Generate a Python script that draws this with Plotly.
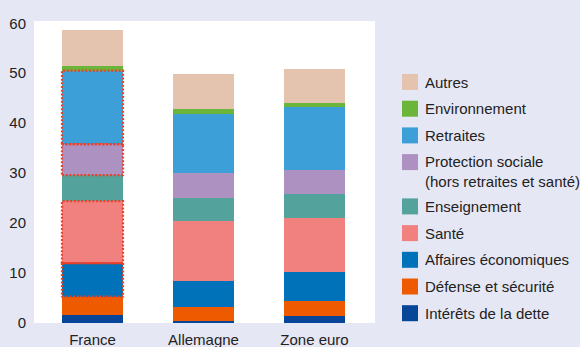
import plotly.graph_objects as go

# Dépenses publiques par fonction (en % du PIB)
countries = ["France", "Allemagne", "Zone euro"]

categories = [
    "Intérêts de la dette",
    "Défense et sécurité",
    "Affaires économiques",
    "Santé",
    "Enseignement",
    "Protection sociale",
    "Retraites",
    "Environnement",
    "Autres",
]
legend_labels = [
    "Intérêts de la dette",
    "Défense et sécurité",
    "Affaires économiques",
    "Santé",
    "Enseignement",
    "Protection sociale<br>(hors retraites et santé)",
    "Retraites",
    "Environnement",
    "Autres",
]

interets = [1.7, 0.5, 1.5]
defense = [3.6, 2.8, 3.0]
affaires = [6.7, 5.1, 5.8]
sante = [12.4, 12.0, 10.8]
enseignement = [5.2, 4.6, 4.8]
protection = [6.2, 5.0, 4.8]
retraites = [14.7, 11.9, 12.6]
environnement = [0.9, 0.9, 0.8]
autres = [7.2, 7.0, 6.8]

series = [interets, defense, affaires, sante, enseignement,
          protection, retraites, environnement, autres]

colors = ["#074598", "#EE5A00", "#0072B9", "#F0817E", "#53A39C",
          "#AD91C1", "#3D9FD8", "#6BB53A", "#E4C4AE"]

# France segments framed with a dotted red outline
highlighted = ["Affaires économiques", "Santé", "Protection sociale", "Retraites"]

y_ticks = [0, 10, 20, 30, 40, 50, 60]

W, H = 580, 347
ML, MR, MT, MB = 34, 205, 21, 24
BAR_W = 0.55
BG = "#E6E7F4"
TXT = "#222222"
FONT = "Liberation Sans, Arial, sans-serif"

fig = go.Figure()
xs = list(range(len(countries)))
for name, vals, col in zip(categories, series, colors):
    fig.add_trace(go.Bar(
        x=xs, y=vals, name=name, width=BAR_W,
        marker=dict(color=col, line=dict(width=0)),
        showlegend=False,
    ))

# dotted frames around the highlighted France segments
base = 0.0
for name, vals in zip(categories, series):
    v = vals[0]
    if name in highlighted:
        fig.add_shape(
            type="rect", xref="x", yref="y",
            x0=xs[0] - BAR_W / 2, x1=xs[0] + BAR_W / 2,
            y0=base, y1=base + v,
            line=dict(color="#E8412C", width=2.2, dash="2px,1.7px"),
            fillcolor="rgba(0,0,0,0)", layer="above",
        )
    base += v

# legend drawn on the right, in reverse stacking order
plot_w = W - ML - MR
plot_h = H - MT - MB


def px_x(px):
    return (px - ML) / plot_w


def px_y(py):
    return 1 - (py - MT) / plot_h


sq = 16
top = 74
step = 26.7
for label, col in zip(reversed(legend_labels), reversed(colors)):
    fig.add_shape(
        type="rect", xref="paper", yref="paper",
        x0=px_x(402), x1=px_x(402 + sq),
        y0=px_y(top + sq), y1=px_y(top),
        fillcolor=col, line=dict(width=0),
    )
    lines = label.count("<br>") + 1
    fig.add_annotation(
        xref="paper", yref="paper",
        x=px_x(423), y=px_y(top + sq / 2 + (lines - 1) * 9),
        xanchor="left", yanchor="middle", align="left",
        text=label, showarrow=False,
        font=dict(family=FONT, size=15, color=TXT),
    )
    top += step + (lines - 1) * 17.6

fig.update_layout(
    width=W, height=H,
    margin=dict(l=ML, r=MR, t=MT, b=MB, autoexpand=False),
    barmode="stack",
    bargap=0,
    paper_bgcolor=BG,
    plot_bgcolor="white",
    font=dict(family=FONT, size=15, color=TXT),
    showlegend=False,
)
fig.update_xaxes(
    tickmode="array", tickvals=xs, ticktext=countries,
    range=[-0.527, 2.545], showgrid=False, zeroline=False,
    showline=False, ticks="", ticklabelstandoff=6, automargin=False,
    tickfont=dict(family=FONT, size=15, color=TXT),
)
fig.update_yaxes(
    tickmode="array", tickvals=y_ticks,
    range=[0, 60.45], showgrid=False, zeroline=False,
    showline=False, ticks="", ticklabelstandoff=7, automargin=False,
    tickfont=dict(family=FONT, size=15, color=TXT),
)

fig.write_html("out.html")
